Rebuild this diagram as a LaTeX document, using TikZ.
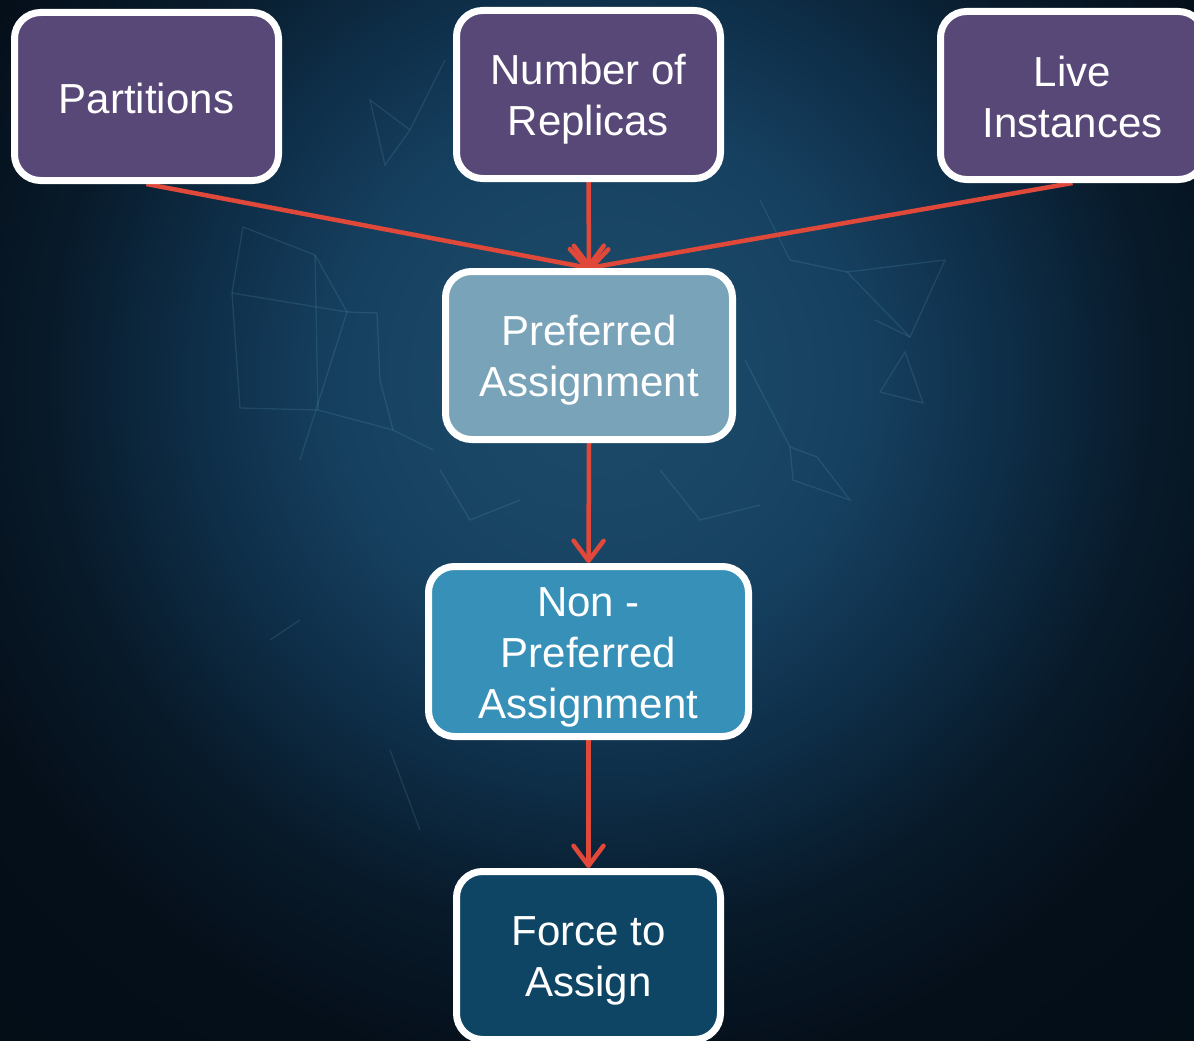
\documentclass[tikz,border=0pt]{standalone}
\usepackage{fontspec}
\setmainfont{Liberation Sans}
\usetikzlibrary{arrows.meta}

\definecolor{bgedge}{HTML}{030D16}
\definecolor{bgfar}{HTML}{050F1A}
\definecolor{bgouter}{HTML}{081A2A}
\definecolor{bgmid}{HTML}{0E2E48}
\definecolor{bginner}{HTML}{164060}
\definecolor{bgnear}{HTML}{1A4665}
\definecolor{bgcore}{HTML}{1C4A68}
\definecolor{webline}{HTML}{6FB2D2}
\definecolor{inputpurple}{HTML}{584877}
\definecolor{prefblue}{HTML}{79A3B8}
\definecolor{nonprefblue}{HTML}{3790B8}
\definecolor{forceblue}{HTML}{0E4565}
\definecolor{arrowred}{HTML}{E0483A}

% soft glow behind the flow, sized in absolute units
\pgfdeclareradialshading{bgglow}{\pgfpoint{0bp}{0bp}}{%
  color(0bp)=(bgcore); color(150bp)=(bgnear); color(260bp)=(bginner);
  color(400bp)=(bgmid); color(550bp)=(bgouter); color(700bp)=(bgfar);
  color(950bp)=(bgedge)}

% fixed line metrics so every label sits at the same offset
\newcommand\boxlabel[1]{\rule{0pt}{40pt}#1\rule[-6.5pt]{0pt}{0pt}}

\pgfdeclarelayer{backdrop}
\pgfdeclarelayer{links}
\pgfsetlayers{backdrop,links,main}

\tikzset{
  stage/.style={rounded corners=26pt, draw=white, line width=7pt,
    text=white, align=center, font=\fontsize{42}{51}\selectfont,
    minimum width=264pt, minimum height=168pt, inner sep=0pt},
  inputbox/.style={stage, fill=inputpurple},
  flow/.style={draw=arrowred, line width=4.5pt,
    -{Straight Barb[length=20pt,width=30pt,line cap=round,line join=round]}},
  web/.style={draw=webline, line width=1.3pt, opacity=0.16}
}

\begin{document}
\begin{tikzpicture}[x=1pt,y=-1pt]
\useasboundingbox (0,0) rectangle (1194,1041);
\clip (0,0) rectangle (1194,1041);

% backdrop: dark glow with a faint polygon web
\begin{pgfonlayer}{backdrop}
  \fill[bgedge] (0,0) rectangle (1194,1041);
  \node[inner sep=0pt, outer sep=0pt] (glow) at (600,380) {\pgfuseshading{bgglow}};
  \draw[web] (243,227) -- (315,255) -- (347,312) -- (377,313);
  \draw[web] (232,293) -- (347,312) -- (300,460);
  \draw[web] (243,227) -- (232,293) -- (240,408) -- (318,410) -- (393,430) -- (433,450);
  \draw[web] (315,255) -- (318,410);
  \draw[web] (377,313) -- (380,380) -- (393,430);
  \draw[web] (370,100) -- (410,130) -- (385,165) -- cycle;
  \draw[web] (410,130) -- (445,60);
  \draw[web] (847,272) -- (945,260) -- (910,337) -- cycle;
  \draw[web] (875,320) -- (910,337);
  \draw[web] (905,352) -- (880,392) -- (923,403) -- cycle;
  \draw[web] (790,447) -- (817,457) -- (850,500) -- (793,480) -- cycle;
  \draw[web] (745,360) -- (790,447);
  \draw[web] (760,200) -- (790,260) -- (847,272);
  \draw[web] (440,470) -- (470,520) -- (520,500);
  \draw[web] (660,470) -- (700,520) -- (760,505);
  \draw[web] (390,750) -- (420,830);
  \draw[web] (270,640) -- (300,620);
\end{pgfonlayer}

% input boxes
\node[inputbox] (part) at (146.5,96.5) {\boxlabel{Partitions}};
\node[inputbox] (reps) at (588.5,94.5) {\boxlabel{Number of\\Replicas}};
\node[inputbox] (live) at (1072.5,95.5) {\boxlabel{Live\\Instances}};

% assignment stages
\node[stage, fill=prefblue, minimum width=287pt] (pref) at (589,355.5)
  {\boxlabel{Preferred\\Assignment}};
\node[stage, fill=nonprefblue, minimum width=320pt, minimum height=170pt] (nonpref)
  at (588.5,651.5) {\boxlabel{Non -\\Preferred\\Assignment}};
\node[stage, fill=forceblue] (force) at (588.5,955.5) {\boxlabel{Force to\\Assign}};

% connectors
\begin{pgfonlayer}{links}
  \draw[flow] (part.south) -- (pref.north);
  \draw[flow] (reps.south) -- (pref.north);
  \draw[flow] (live.south) -- (pref.north);
  \draw[flow] (pref.south) -- (nonpref.north);
  \draw[flow] (nonpref.south) -- (force.north);
\end{pgfonlayer}
\end{tikzpicture}
\end{document}
